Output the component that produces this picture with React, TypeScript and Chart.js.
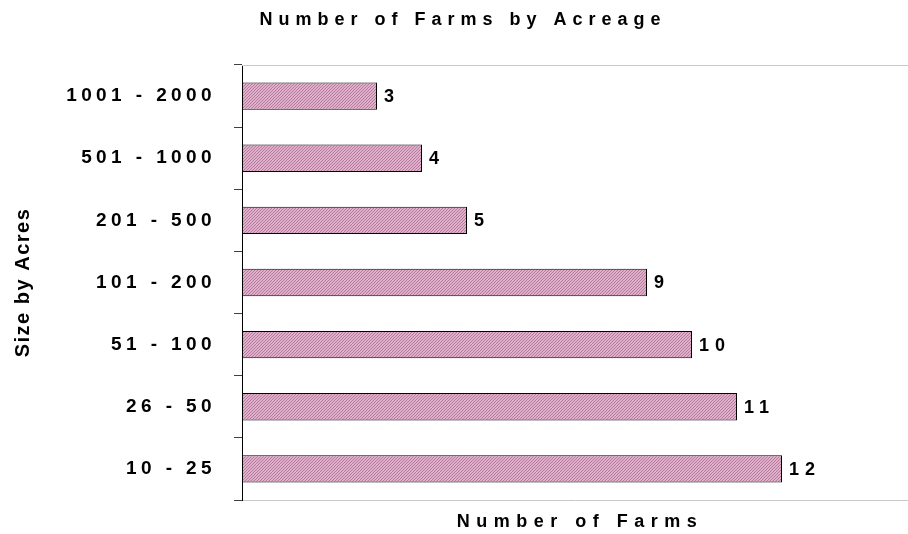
import React, { useEffect, useRef } from 'react';
import { Chart, registerables } from 'chart.js';

Chart.register(...registerables);

const categories = ['10 - 25', '26 - 50', '51 - 100', '101 - 200', '201 - 500', '501 - 1000', '1001 - 2000'];
const farmCounts = [12, 11, 10, 9, 5, 4, 3];
const chartTitle = 'Number of Farms by Acreage';
const xAxisTitle = 'Number of Farms';
const yAxisTitle = 'Size by Acres';
const xMin = 0;
const xMax = 14.8;

const FONT = '"Liberation Sans", Arial, sans-serif';
const TICK_SPACING = '4.4px';

function makePattern(ctx: CanvasRenderingContext2D) {
  const pc = document.createElement('canvas');
  pc.width = 3;
  pc.height = 3;
  const p = pc.getContext('2d')!;
  p.fillStyle = '#dfaeca';
  p.fillRect(0, 0, 3, 3);
  p.fillStyle = '#b57d9b';
  p.fillRect(2, 0, 1, 1);
  p.fillRect(1, 1, 1, 1);
  p.fillRect(0, 2, 1, 1);
  return ctx.createPattern(pc, 'repeat')!;
}

const spacingPlugin = {
  id: 'spacing',
  beforeLayout(chart: any) {
    chart.ctx.letterSpacing = TICK_SPACING;
  },
  beforeDraw(chart: any) {
    chart.ctx.letterSpacing = TICK_SPACING;
  },
  afterDatasetsDraw(chart: any) {
    const ctx = chart.ctx as CanvasRenderingContext2D;
    const meta = chart.getDatasetMeta(0);
    ctx.save();
    (ctx as any).letterSpacing = '6px';
    ctx.font = `bold 18px ${FONT}`;
    ctx.fillStyle = '#000';
    ctx.textAlign = 'left';
    ctx.textBaseline = 'middle';
    meta.data.forEach((bar: any, i: number) => {
      ctx.fillText(String(farmCounts[i]), bar.x + 7, bar.y + 1);
    });
    ctx.restore();
  },
  afterDraw(chart: any) {
    const ctx = chart.ctx as CanvasRenderingContext2D;
    const a = chart.chartArea;
    ctx.save();
    ctx.strokeStyle = '#c8c8c8';
    ctx.lineWidth = 1;
    ctx.beginPath();
    ctx.moveTo(a.left, Math.round(a.top) + 0.5);
    ctx.lineTo(a.right, Math.round(a.top) + 0.5);
    ctx.stroke();

    ctx.fillStyle = '#000';
    ctx.textBaseline = 'middle';
    ctx.textAlign = 'center';
    ctx.font = `bold 18px ${FONT}`;
    (ctx as any).letterSpacing = '6px';
    ctx.fillText(chartTitle, 463, 20);
    (ctx as any).letterSpacing = '6.5px';
    ctx.fillText(xAxisTitle, 580, 522);

    (ctx as any).letterSpacing = '1.5px';
    ctx.font = `bold 20px ${FONT}`;
    ctx.translate(23, (a.top + a.bottom) / 2);
    ctx.rotate(-Math.PI / 2);
    ctx.fillText(yAxisTitle, 0, 0);
    ctx.restore();
  },
};

export default function App() {
  const ref = useRef<HTMLCanvasElement>(null);

  useEffect(() => {
    const canvas = ref.current!;
    const ctx = canvas.getContext('2d')!;
    const pattern = makePattern(ctx);
    const chart = new Chart(canvas, {
      type: 'bar',
      data: {
        labels: categories,
        datasets: [
          {
            data: farmCounts,
            backgroundColor: pattern as any,
            borderColor: '#000',
            borderWidth: 1,
            borderSkipped: false,
            barPercentage: 0.44,
            categoryPercentage: 1,
          },
        ],
      },
      options: {
        indexAxis: 'y',
        animation: false,
        responsive: false,
        maintainAspectRatio: false,
        devicePixelRatio: 1,
        layout: { padding: { left: 0, right: 0, top: 65, bottom: 34 } },
        plugins: {
          legend: { display: false },
          title: { display: false },
          tooltip: { enabled: false },
        },
        scales: {
          x: {
            min: xMin,
            max: xMax,
            ticks: { display: false },
            grid: { display: false },
            border: { display: true, color: '#c8c8c8', width: 1 },
            afterFit: (s: any) => {
              s.height = 0;
            },
          },
          y: {
            reverse: true,
            grid: {
              display: true,
              drawOnChartArea: false,
              drawTicks: true,
              tickLength: 8,
              color: '#404040',
              offset: true,
            },
            border: { display: true, color: '#000', width: 1 },
            ticks: {
              padding: 18,
              color: '#000',
              font: { family: FONT, size: 19, weight: 'bold' },
            },
            afterFit: (s: any) => {
              s.width = 242;
            },
          },
        },
      },
      plugins: [spacingPlugin],
    });
    return () => chart.destroy();
  }, []);

  return (
    <div style={{ position: 'fixed', left: 0, top: 0, width: 908, height: 534, background: '#fff' }}>
      <canvas ref={ref} width={908} height={534} style={{ width: 908, height: 534, display: 'block' }} />
    </div>
  );
}
